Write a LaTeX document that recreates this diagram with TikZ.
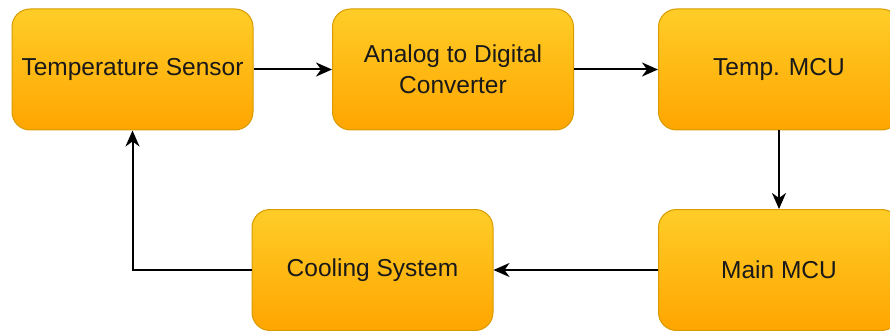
\documentclass[tikz,border=0pt]{standalone}
\usepackage{fontspec}
\setmainfont{Liberation Sans}
\usetikzlibrary{arrows.meta,positioning}

\definecolor{boxtop}{HTML}{FFCD28}
\definecolor{boxbot}{HTML}{FFA500}
\definecolor{boxline}{HTML}{D79B00}

\tikzset{
  block/.style={draw=boxline,line width=1pt,rounded corners=18pt,
    top color=boxtop,bottom color=boxbot,
    minimum width=241pt,minimum height=121pt,align=center,
    font=\fontsize{24.5}{31}\selectfont,text=black!90},
  flow/.style={line width=2pt,-{Stealth[length=16pt,width=14pt,inset=5pt]}}
}

\begin{document}
\begin{tikzpicture}[x=1pt,y=1pt]
    \clip (0,0) rectangle (890,-331);
    \node[block] (sensor) at (132.5,-69.5) {Temperature Sensor};
    \node[block] (adc) at (453,-69.5) {Analog to Digital\\Converter};
    \node[block] (tmcu) at (779,-69.5) {Temp. MCU};
    \node[block] (mmcu) at (779,-270) {Main MCU};
    \node[block] (cool) at (372.5,-270) {Cooling System};
    \draw[flow] (sensor) -- (adc);
    \draw[flow] (adc) -- (tmcu);
    \draw[flow] (tmcu) -- (mmcu);
    \draw[flow] (mmcu) -- (cool);
    \draw[flow] (cool.west) -| (sensor.south);
  \end{tikzpicture}
\end{document}
